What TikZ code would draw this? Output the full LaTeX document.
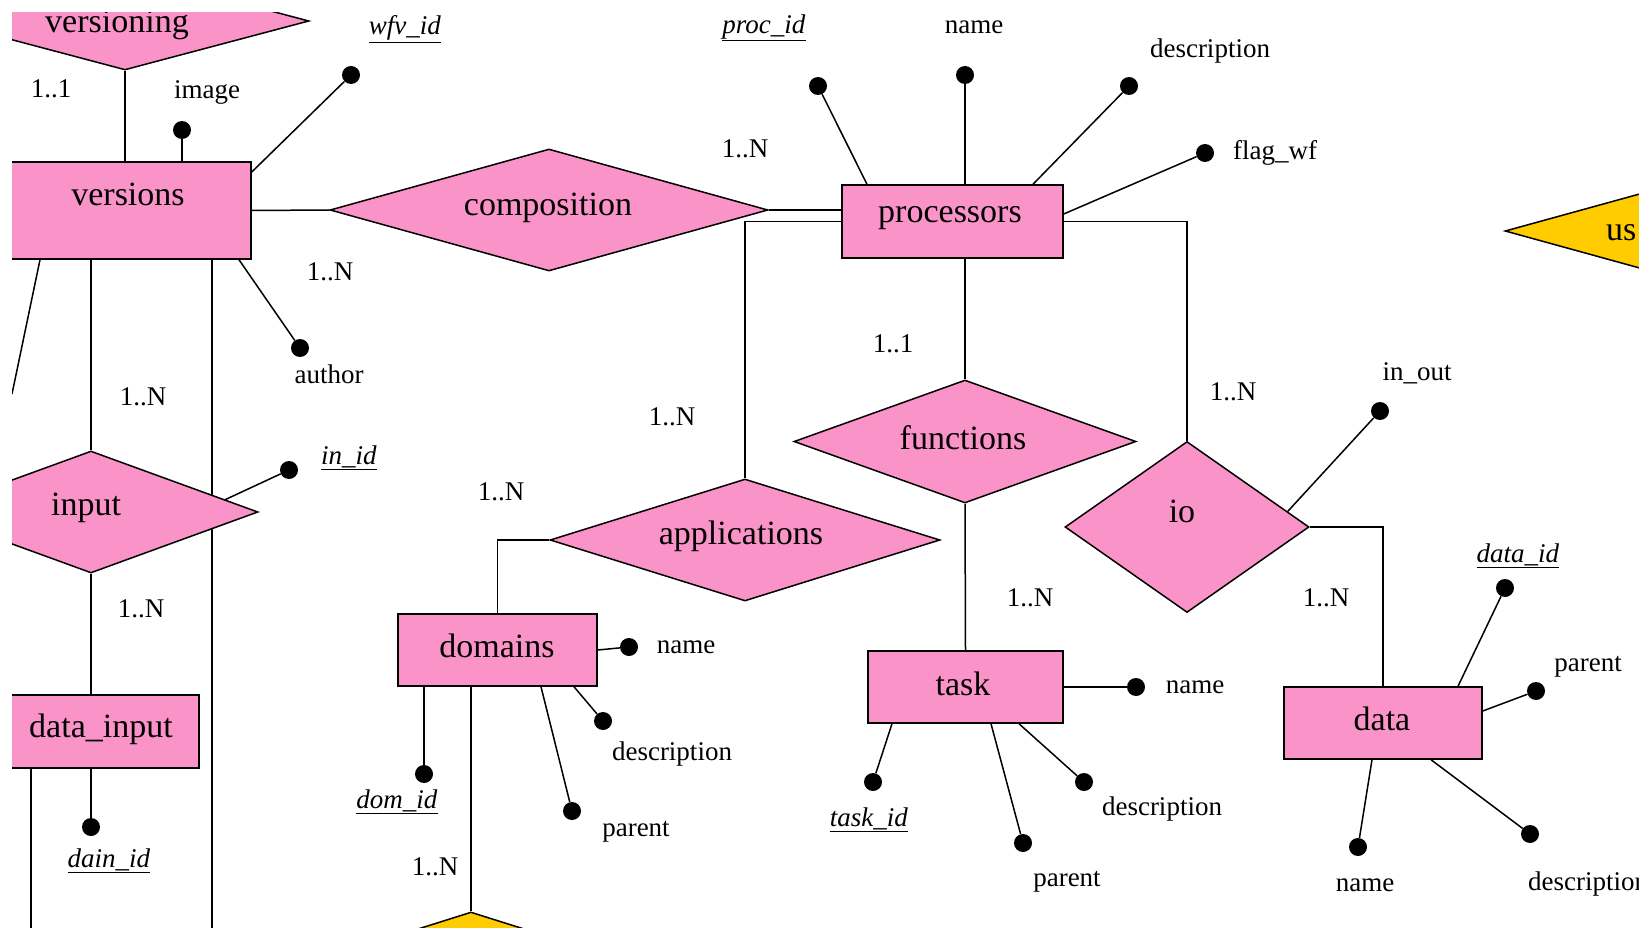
\documentclass[tikz,border=0pt]{standalone}
\usepackage{fontspec}
\setmainfont{Liberation Serif}
\usetikzlibrary{calc,shapes.geometric}
\definecolor{erpink}{RGB}{250,148,200}
\definecolor{eryellow}{RGB}{255,204,0}
\newcommand\erbig{\fontsize{34}{40}\selectfont}
\newcommand\ersmall{\fontsize{27}{32}\selectfont}
\newcommand\key[1]{\underline{\textit{#1}}}
\pgfdeclarelayer{bg}
\pgfsetlayers{bg,main}
\begin{document}
\begin{tikzpicture}[x=1pt,y=-1pt,
  entity/.style={rectangle, draw=black, fill=erpink, line width=1.5pt, inner sep=0pt, font=\erbig},
  rel/.style={diamond, draw=black, fill=erpink, line width=1.5pt, inner sep=0pt, font=\erbig},
  yrel/.style={rel, fill=eryellow},
  attr/.style={circle, fill=black, minimum size=18pt, inner sep=0pt},
  lbl/.style={font=\ersmall, inner sep=0pt},
  big/.style={font=\erbig, inner sep=0pt},
  conn/.style={line width=1.5pt, draw=black}]
\useasboundingbox (0,0) rectangle (1639,928);
\begin{scope}
\clip (12,13) rectangle (1639,928);
% relationships
\node[rel, minimum width=368pt, minimum height=98pt, aspect=3.75] (versioning) at (125,21) {};
\node[big] (versioningT) at (117,25) {versioning};
\node[rel, minimum width=438pt, minimum height=122pt, aspect=3.6] (composition) at (549,210) {};
\node[big] (compositionT) at (548,208) {composition};
\node[rel, minimum width=342pt, minimum height=123pt, aspect=2.8] (functions) at (965,441.5) {};
\node[big] (functionsT) at (963,438) {functions};
\node[rel, minimum width=244pt, minimum height=171pt, aspect=1.43] (io) at (1187,527) {};
\node[big] (ioT) at (1182,511) {io};
\node[rel, minimum width=390pt, minimum height=122pt, aspect=3.2] (applications) at (745,540) {};
\node[big] (applicationsT) at (741,536) {applications};
\node[rel, minimum width=334pt, minimum height=122pt, aspect=2.74] (input) at (91,512) {};
\node[big] (inputT) at (86,508) {input};
\node[yrel, minimum width=380pt, minimum height=120pt, aspect=3.17] (ybottom) at (471,972) {};
\node[yrel, minimum width=434pt, minimum height=120pt, aspect=3.6] (yright) at (1722,231) {};
\node[big, anchor=west] (yrightT) at (1606,233) {us};
% entities
\node[entity, minimum width=246pt, minimum height=97pt] (versions) at (128,210.5) {};
\node[big] (versionsT) at (128,194) {versions};
\node[entity, minimum width=221pt, minimum height=73pt] (processors) at (952.5,221.5) {};
\node[big] (processorsT) at (950,218) {processors};
\node[entity, minimum width=199pt, minimum height=72pt] (domains) at (497.5,650) {};
\node[big] (domainsT) at (497,646) {domains};
\node[entity, minimum width=195pt, minimum height=72pt] (task) at (965.5,687) {};
\node[big] (taskT) at (963,684) {task};
\node[entity, minimum width=198pt, minimum height=72pt] (data) at (1383,723) {};
\node[big] (dataT) at (1382,719) {data};
\node[entity, minimum width=196pt, minimum height=73pt] (datainput) at (101,731.5) {};
\node[big] (datainputT) at (101,729) {data\_input};
% attribute dots
\node[attr] (d-image) at (182,130) {};
\node[attr] (d-wfv) at (351,75) {};
\node[attr] (d-author) at (300,348) {};
\node[attr] (d-procid) at (818,86) {};
\node[attr] (d-pname) at (965,75) {};
\node[attr] (d-pdesc) at (1129,86) {};
\node[attr] (d-flag) at (1205,153) {};
\node[attr] (d-inout) at (1380,411) {};
\node[attr] (d-inid) at (289,470) {};
\node[attr] (d-dainid) at (91,827) {};
\node[attr] (d-dname) at (629,647) {};
\node[attr] (d-ddesc) at (603,721) {};
\node[attr] (d-dparent) at (572,811) {};
\node[attr] (d-domid) at (424,774) {};
\node[attr] (d-tname) at (1136,687) {};
\node[attr] (d-taskid) at (873,782) {};
\node[attr] (d-tparent) at (1023,843) {};
\node[attr] (d-tdesc) at (1084,782) {};
\node[attr] (d-dataid) at (1505,588) {};
\node[attr] (d-daparent) at (1536,691) {};
\node[attr] (d-daname) at (1358,847) {};
\node[attr] (d-dadesc) at (1530,834) {};
% labels
\node[lbl] (l1) at (51,89) {1..1};
\node[lbl] (l2) at (207,92) {image};
\node[lbl] (l3) at (405,29) {\key{wfv\_id}};
\node[lbl] (l4) at (330,272) {1..N};
\node[lbl] (l5) at (745,149) {1..N};
\node[lbl] (l6) at (329,374) {author};
\node[lbl] (l7) at (764,28) {\key{proc\_id}};
\node[lbl] (l8) at (974,27) {name};
\node[lbl] (l9) at (1210,51) {description};
\node[lbl, anchor=west] (l10) at (1233,153) {flag\_wf};
\node[lbl] (l11) at (893,344) {1..1};
\node[lbl] (l12) at (672,417) {1..N};
\node[lbl] (l13) at (1233,392) {1..N};
\node[lbl] (l14) at (1417,373) {in\_out};
\node[lbl] (l15) at (1326,598) {1..N};
\node[lbl] (l16) at (1030,598) {1..N};
\node[lbl] (l17) at (501,492) {1..N};
\node[lbl] (l18) at (686,647) {name};
\node[lbl] (l19) at (672,754) {description};
\node[lbl] (l20) at (636,832) {parent};
\node[lbl] (l21) at (397,802) {\key{dom\_id}};
\node[lbl] (l22) at (435,867) {1..N};
\node[lbl] (l23) at (1195,687) {name};
\node[lbl] (l24) at (869,820) {\key{task\_id}};
\node[lbl] (l25) at (1067,882) {parent};
\node[lbl] (l26) at (1162,809) {description};
\node[lbl] (l27) at (1518,556) {\key{data\_id}};
\node[lbl] (l28) at (1588,667) {parent};
\node[lbl] (l29) at (1365,885) {name};
\node[lbl, anchor=west] (l30) at (1528,884) {description};
\node[lbl] (l31) at (349,458) {\key{in\_id}};
\node[lbl] (l32) at (143,397) {1..N};
\node[lbl] (l33) at (141,609) {1..N};
\node[lbl] (l34) at (109,861) {\key{dain\_id}};
\coordinate (leftend) at (12,394);
\coordinate (bot1) at (31,940);
\coordinate (bot2) at (212,940);
\end{scope}
\begin{pgfonlayer}{bg}
\begin{scope}
\clip (12,13) rectangle (1639,928);
% versions
\draw[conn] (versioning.south) -- (versioning.south |- versions.north);
\draw[conn] (d-image) -- (d-image |- versions.north);
\draw[conn] ([yshift=38.5pt]versions.east) -- (d-wfv);
\draw[conn] (versions.east) -- (composition.west);
\draw[conn] ([xshift=111pt]versions.south) -- (d-author);
\draw[conn] ([xshift=-88pt]versions.south) -- (leftend);
\draw[conn] (input.north |- versions.south) -- (input.north);
\draw[conn] ([xshift=84pt]versions.south) -- (bot2);
% input
\draw[conn] ($(input.north)!0.8!(input.east)$) -- (d-inid);
\draw[conn] (input.south) -- (input.south |- datainput.north);
\draw[conn] (d-dainid |- datainput.south) -- (d-dainid);
\draw[conn] ([xshift=-70pt]datainput.south) -- (bot1);
% processors
\draw[conn] (composition.east) -- (composition.east -| processors.west);
\draw[conn] (processors.west) -| (applications.north);
\draw[conn] (processors.east) -| (io.north);
\draw[conn] (functions.north |- processors.south) -- (functions.north);
\draw[conn] ([xshift=-85.5pt]processors.north) -- (d-procid);
\draw[conn] ([xshift=12.5pt]processors.north) -- (d-pname);
\draw[conn] ([xshift=80.5pt]processors.north) -- (d-pdesc);
\draw[conn] ([yshift=7.5pt]processors.east) -- (d-flag);
% io
\draw[conn] ($(io.north)!0.82!(io.east)$) -- (d-inout);
\draw[conn] (io.east) -| (data.north);
% functions
\draw[conn] (functions.south) -- (task.north);
% applications
\draw[conn] (applications.west) -| (domains.north);
% domains
\draw[conn] (domains.east) -- (d-dname);
\draw[conn] ([xshift=76.5pt]domains.south) -- (d-ddesc);
\draw[conn] ([xshift=43.5pt]domains.south) -- (d-dparent);
\draw[conn] (d-domid |- domains.south) -- (d-domid);
\draw[conn] (ybottom.north |- domains.south) -- (ybottom.north);
% task
\draw[conn] (task.east) -- (d-tname);
\draw[conn] ([xshift=-73.5pt]task.south) -- (d-taskid);
\draw[conn] ([xshift=25.5pt]task.south) -- (d-tparent);
\draw[conn] ([xshift=53.5pt]task.south) -- (d-tdesc);
% data
\draw[conn] ([xshift=75pt]data.north) -- (d-dataid);
\draw[conn] ([yshift=12pt]data.east) -- (d-daparent);
\draw[conn] ([xshift=-11pt]data.south) -- (d-daname);
\draw[conn] ([xshift=48pt]data.south) -- (d-dadesc);
\end{scope}
\end{pgfonlayer}
\end{tikzpicture}
\end{document}
